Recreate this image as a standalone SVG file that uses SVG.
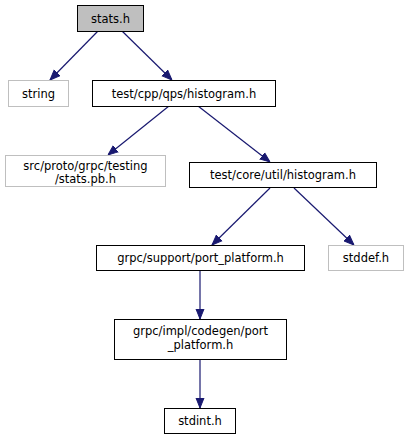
<svg xmlns="http://www.w3.org/2000/svg" width="408" height="440" viewBox="0 0 408 440">
<defs>
<marker id="ah" markerWidth="10" markerHeight="10" refX="10" refY="5" orient="auto" markerUnits="userSpaceOnUse">
<path d="M0,1 L10,5 L0,9 Z" fill="#191970" stroke="#191970"/>
</marker>
<style>
.n rect{fill:#fff;stroke:#000;stroke-width:1}
.g rect{fill:#fff;stroke:#bfbfbf;stroke-width:1}
.c rect{fill:#bfbfbf;stroke:#000;stroke-width:1}
text{font-family:"DejaVu Sans",sans-serif;font-size:11.5px;text-anchor:middle;fill:#000}
.e line{stroke:#191970;stroke-width:1.2;marker-end:url(#ah)}
</style>
</defs>
<rect width="408" height="440" fill="#fff"/>
<g class="e" id="edges">
<line x1="98" y1="31" x2="50" y2="80"/>
<line x1="122" y1="31" x2="172" y2="80"/>
<line x1="169" y1="106" x2="108" y2="155"/>
<line x1="198" y1="106" x2="270" y2="162"/>
<line x1="270" y1="188" x2="212" y2="245"/>
<line x1="294" y1="188" x2="354" y2="245"/>
<line x1="200" y1="270" x2="200" y2="319"/>
<line x1="200" y1="359" x2="200" y2="408"/>
</g>
<g id="stats_h" class="c"><rect x="77.5" y="5.5" width="66" height="26"/><text x="110.5" y="22.5">stats.h</text></g>
<g id="string" class="g"><rect x="8.5" y="80.5" width="60" height="26"/><text x="38.5" y="97.5">string</text></g>
<g id="qps_histogram" class="n"><rect x="92.5" y="80.5" width="183" height="26"/><text x="184" y="97.5">test/cpp/qps/histogram.h</text></g>
<g id="stats_pb" class="g"><rect x="5.5" y="155.5" width="160" height="31"/><text x="85.5" y="170">src/proto/grpc/testing</text><text x="85.5" y="183">/stats.pb.h</text></g>
<g id="core_histogram" class="n"><rect x="189.5" y="162.5" width="187" height="25"/><text x="283" y="179">test/core/util/histogram.h</text></g>
<g id="support_port" class="n"><rect x="96.5" y="245.5" width="208" height="25"/><text x="200.5" y="262">grpc/support/port_platform.h</text></g>
<g id="stddef" class="g"><rect x="328.5" y="245.5" width="75" height="25"/><text x="366" y="262">stddef.h</text></g>
<g id="impl_port" class="n"><rect x="114.5" y="319.5" width="172" height="40"/><text x="200.5" y="335">grpc/impl/codegen/port</text><text x="200.5" y="349">_platform.h</text></g>
<g id="stdint" class="n"><rect x="164.5" y="408.5" width="71" height="25"/><text x="200" y="425">stdint.h</text></g>
</svg>
